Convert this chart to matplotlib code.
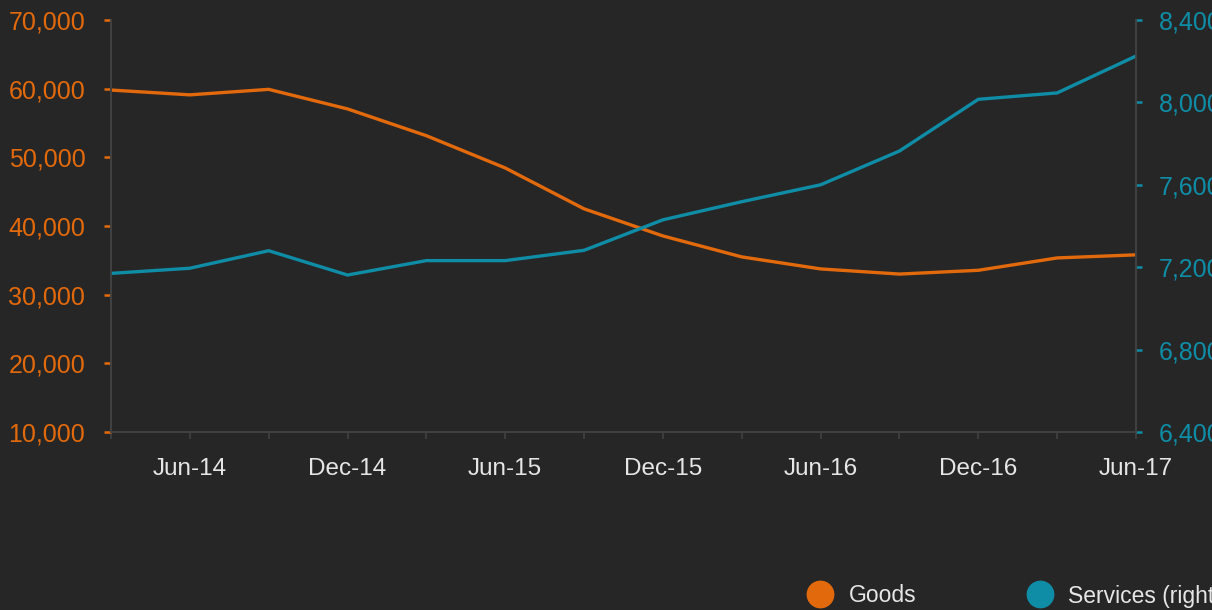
import matplotlib
matplotlib.use("Agg")
import matplotlib.pyplot as plt
from matplotlib.lines import Line2D
from matplotlib.ticker import FuncFormatter, FixedLocator

# Quarterly observations, Mar-14 to Jun-17
quarters = ["Mar-14", "Jun-14", "Sep-14", "Dec-14", "Mar-15", "Jun-15", "Sep-15",
            "Dec-15", "Mar-16", "Jun-16", "Sep-16", "Dec-16", "Mar-17", "Jun-17"]
goods = [59800, 59100, 59900, 57050, 53150, 48450, 42500,
         38550, 35500, 33750, 33000, 33550, 35350, 35800]
services = [7170, 7195, 7280, 7162, 7232, 7232, 7282,
            7430, 7518, 7600, 7764, 8015, 8046, 8225]
shown_labels = ["Jun-14", "Dec-14", "Jun-15", "Dec-15", "Jun-16", "Dec-16", "Jun-17"]

left_ticks = [10000, 20000, 30000, 40000, 50000, 60000, 70000]
right_ticks = [6400, 6800, 7200, 7600, 8000, 8400]

BG = "#262626"
ORANGE = "#E36A0C"
TEAL = "#0F8DA6"
SPINE = "#414141"
TEXT = "#E6E6E6"

plt.rcParams["font.family"] = ["Liberation Sans", "DejaVu Sans"]

fig = plt.figure(figsize=(12.12, 6.10), dpi=100, facecolor=BG)
ax = fig.add_axes([111 / 1212, 1 - 432 / 610, 1025 / 1212, 412 / 610])
ax.set_facecolor(BG)
ax2 = ax.twinx()

x = list(range(len(quarters)))
ax.plot(x, goods, color=ORANGE, lw=2.4, solid_joinstyle="round")
ax2.plot(x, services, color=TEAL, lw=2.4, solid_joinstyle="round")

ax.set_xlim(0, len(quarters) - 1)
ax.set_ylim(10000, 70000)
ax2.set_ylim(6400, 8400)

# x axis: a tick every quarter, labels every second quarter
ax.xaxis.set_major_locator(FixedLocator([quarters.index(q) for q in shown_labels]))
ax.set_xticklabels(shown_labels)
ax.xaxis.set_minor_locator(FixedLocator(x))
ax.tick_params(axis="x", which="both", colors=SPINE, length=5, width=1.2,
               labelcolor=TEXT, labelsize=17.5, pad=14)

fmt = FuncFormatter(lambda v, p: f"{int(v):,}")
ax.set_yticks(left_ticks)
ax.yaxis.set_major_formatter(fmt)
ax.tick_params(axis="y", colors=ORANGE, length=5, width=1.8, labelsize=18, pad=13.5)
ax2.set_yticks(right_ticks)
ax2.yaxis.set_major_formatter(fmt)
ax2.tick_params(axis="y", colors=TEAL, length=4.5, width=1.8, labelsize=18, pad=12)

for a in (ax, ax2):
    a.spines["top"].set_visible(False)
    for s in ("left", "right", "bottom"):
        a.spines[s].set_color(SPINE)
        a.spines[s].set_linewidth(1.2)

handles = [
    Line2D([], [], ls="none", marker="o", ms=19, color=ORANGE, label="Goods"),
    Line2D([], [], ls="none", marker="o", ms=19, color=TEAL, label="Services (right)"),
]
fig.legend(handles=handles, loc="center left", ncol=2, frameon=False,
           bbox_to_anchor=(809 / 1212, 1 - 596 / 610), fontsize=16.5,
           labelcolor=TEXT, handlelength=1.0, handletextpad=0.72,
           columnspacing=4.9, borderaxespad=0, borderpad=0)

fig.savefig("out.png", dpi=100, facecolor=BG)
